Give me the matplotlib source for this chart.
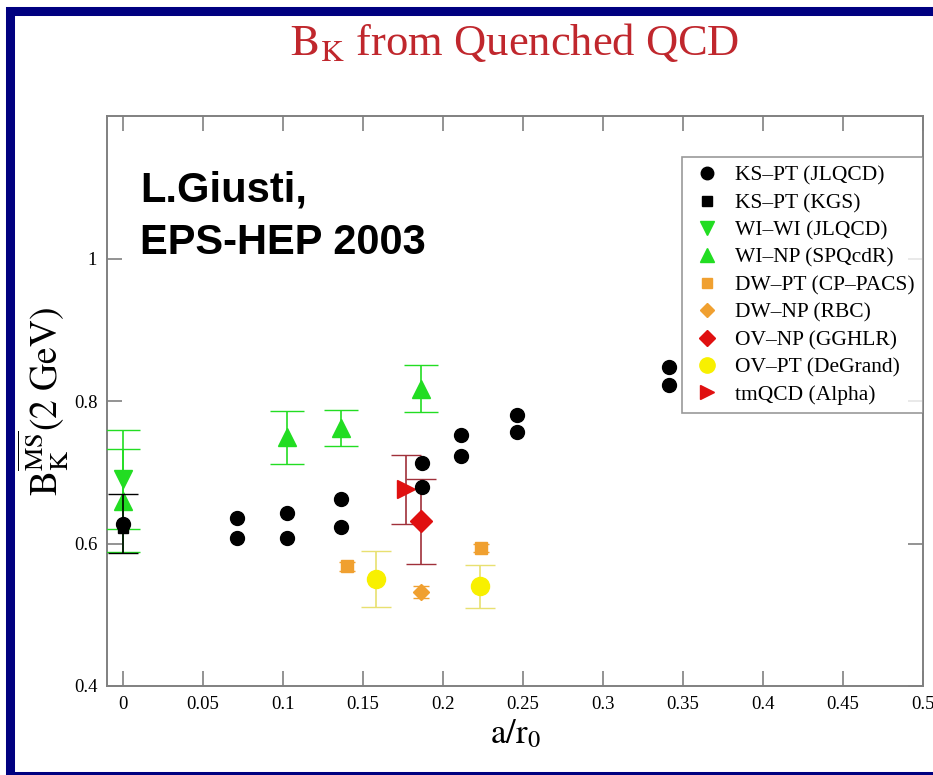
import matplotlib
matplotlib.use("Agg")
import matplotlib.pyplot as plt
from matplotlib.patches import Rectangle
from matplotlib.lines import Line2D

plt.rcParams['font.family'] = ['Liberation Serif', 'DejaVu Serif']
plt.rcParams['mathtext.fontset'] = 'stix'

# B_K results, x = a/r0
ks_jlqcd_x = [0.071, 0.071, 0.1025, 0.1025, 0.136, 0.136, 0.187, 0.187, 0.211, 0.211, 0.246, 0.246, 0.341, 0.341]
ks_jlqcd_y = [0.636, 0.608, 0.643, 0.608, 0.662, 0.623, 0.713, 0.679, 0.752, 0.723, 0.780, 0.756, 0.848, 0.822]
# continuum values at a = 0
ks_cont_x = [0.0]
ks_cont_y = [0.628]
ks_cont_err = [0.041]

ks_kgs_x = [0.0]
ks_kgs_y = [0.622]

wiwi_x = [0.0]
wiwi_y = [0.690]
wiwi_err = [0.070]

winp_x = [0.0, 0.1025, 0.136, 0.186]
winp_y = [0.660, 0.749, 0.762, 0.817]
winp_err = [0.072, 0.037, 0.025, 0.033]

dwpt_x = [0.140, 0.224]
dwpt_y = [0.568, 0.594]
dwpt_err = [0.006, 0.006]

dwnp_x = [0.186]
dwnp_y = [0.532]
dwnp_err = [0.008]

ovnp_x = [0.186]
ovnp_y = [0.631]
ovnp_err = [0.060]

ovpt_x = [0.158, 0.223]
ovpt_y = [0.550, 0.540]
ovpt_err = [0.039, 0.030]

tm_x = [0.177]
tm_y = [0.676]
tm_err = [0.048]

GREEN = '#22dd22'
ORANGE = '#f0a030'
RED = '#e01010'
YELLOW = '#f8f000'

fig = plt.figure(figsize=(9.33, 7.75), dpi=100)
# slide frame
fig.patches.append(Rectangle((9.5 / 933, -0.5 / 775), 1.2, 1 - 10 / 775, transform=fig.transFigure,
                             fill=False, edgecolor='#000080', linewidth=6.5, zorder=10))

ax = fig.add_axes([107 / 933, 1 - 686 / 775, 816 / 933, 570 / 775])

ax.plot(ks_kgs_x, ks_kgs_y, 's', color='black', ms=7, zorder=5)
ax.errorbar(ks_cont_x, ks_cont_y, yerr=ks_cont_err, fmt='o', color='black', ms=10,
            capsize=11, elinewidth=1.2, zorder=5)
ax.plot(ks_jlqcd_x, ks_jlqcd_y, 'o', color='black', ms=10, zorder=5)
ax.errorbar(wiwi_x, wiwi_y, yerr=wiwi_err, fmt='v', color=GREEN, ms=13,
            capsize=12, elinewidth=1.2, zorder=4)
ax.errorbar(winp_x, winp_y, yerr=winp_err, fmt='^', color=GREEN, ms=13,
            capsize=12, elinewidth=1.2, zorder=4)
ax.errorbar(dwpt_x, dwpt_y, yerr=dwpt_err, fmt='s', color=ORANGE, ms=8,
            capsize=6, elinewidth=1, zorder=4)
ax.errorbar(dwnp_x, dwnp_y, yerr=dwnp_err, fmt='D', color=ORANGE, ms=8,
            capsize=6, elinewidth=1, zorder=4)
ax.errorbar(ovnp_x, ovnp_y, yerr=ovnp_err, fmt='D', color=RED, ecolor='#a0303a', ms=11,
            capsize=11, elinewidth=1.2, zorder=4)
ax.errorbar(ovpt_x, ovpt_y, yerr=ovpt_err, fmt='o', color=YELLOW, ecolor='#e8e070', ms=13,
            capsize=11, elinewidth=1.2, zorder=4)
ax.errorbar(tm_x, tm_y, yerr=tm_err, fmt='>', color=RED, ecolor='#a0303a', ms=13,
            capsize=11, elinewidth=1.2, zorder=4)

ax.set_xlim(-0.01, 0.5)
ax.set_ylim(0.4, 1.2)
ax.set_xticks([0, 0.05, 0.1, 0.15, 0.2, 0.25, 0.3, 0.35, 0.4, 0.45, 0.5])
ax.set_xticklabels(['0', '0.05', '0.1', '0.15', '0.2', '0.25', '0.3', '0.35', '0.4', '0.45', '0.5'])
ax.set_yticks([0.4, 0.6, 0.8, 1.0])
ax.set_yticklabels(['0.4', '0.6', '0.8', '1'])
ax.tick_params(direction='in', length=11, width=1.2, color='#808080', labelsize=13.5,
               top=True, right=True, pad=7)
for s in ax.spines.values():
    s.set_color('#808080')
    s.set_linewidth(1.4)

ax.set_xlabel(r'$\mathrm{a/r_0}$', fontsize=25, labelpad=4)
ax.set_ylabel(r'$\mathrm{B_K^{\overline{MS}}(2\ GeV)}$', fontsize=27, labelpad=2)

entries = [
    ('o', 'black', 'KS\u2013PT (JLQCD)', 9),
    ('s', 'black', 'KS\u2013PT (KGS)', 7),
    ('v', GREEN, 'WI\u2013WI (JLQCD)', 10),
    ('^', GREEN, 'WI\u2013NP (SPQcdR)', 10),
    ('s', ORANGE, 'DW\u2013PT (CP\u2013PACS)', 7),
    ('D', ORANGE, 'DW\u2013NP (RBC)', 7),
    ('D', RED, 'OV\u2013NP (GGHLR)', 8),
    ('o', YELLOW, 'OV\u2013PT (DeGrand)', 11),
    ('>', RED, 'tmQCD (Alpha)', 10),
]
handles = [Line2D([], [], ls='none', marker=m, color=c, ms=s) for m, c, _, s in entries]
labels = [lab for _, _, lab, _ in entries]
leg = ax.legend(handles, labels, loc='upper right', bbox_to_anchor=(1.0, 0.928), fontsize=15.5,
                frameon=True, fancybox=False, edgecolor='#808080', handletextpad=0.55,
                labelspacing=0.34, borderpad=0.4, handlelength=1.5, borderaxespad=0)
leg.get_frame().set_linewidth(1.2)

ax.text(0.041, 0.905, 'L.Giusti,\nEPS-HEP 2003', transform=ax.transAxes, fontsize=30,
        fontweight='bold', family='Liberation Sans', va='top', ha='left', linespacing=1.42)

fig.text(515 / 933, 1 - 55 / 775, r'$\mathrm{B_K}$ from Quenched QCD', color='#c0272d',
         fontsize=32, ha='center', va='baseline')

fig.savefig('out.png', dpi=100)
